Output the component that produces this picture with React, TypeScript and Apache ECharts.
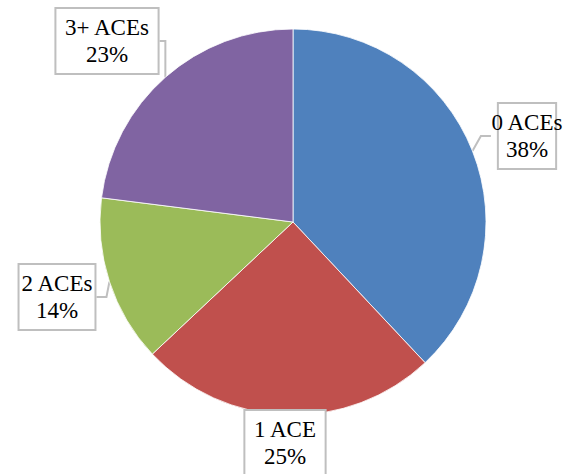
import React, { useEffect, useRef } from "react";
import * as echarts from "echarts";

const categories = ["0 ACEs", "1 ACE", "2 ACEs", "3+ ACEs"];
const values = [38, 25, 14, 23];
const colors = ["#4F81BD", "#C0504D", "#9BBB59", "#8064A2"];
const labelPositions = [
  [527, 136],
  [285, 443],
  [57, 297],
  [107, 41],
];

export default function App() {
  const ref = useRef<HTMLDivElement>(null);
  useEffect(() => {
    if (!ref.current) return;
    const chart = echarts.init(ref.current, null, { renderer: "svg" });
    chart.setOption({
      animation: false,
      backgroundColor: "#ffffff",
      series: [
        {
          type: "pie",
          center: [293, 222],
          radius: 193,
          startAngle: 90,
          clockwise: true,
          percentPrecision: 0,
          data: categories.map((c, i) => ({
            name: c,
            value: values[i],
            itemStyle: { color: colors[i] },
          })),
          itemStyle: { borderColor: "#ffffff", borderWidth: 0.8 },
          label: {
            show: true,
            position: "outside",
            alignTo: "none",
            overflow: "none",
            formatter: "{b}\n{d}%",
            fontFamily: "Liberation Serif",
            fontSize: 23,
            lineHeight: 27,
            color: "#000000",
            backgroundColor: "#ffffff",
            borderColor: "#BFBFBF",
            borderWidth: 2,
            padding: [6, 8, 4, 8],
            align: "center",
          },
          labelLine: {
            show: true,
            length: 10,
            length2: 10,
            lineStyle: { color: "#BFBFBF", width: 2 },
          },
          labelLayout: (params: any) => {
            const p = labelPositions[params.dataIndex];
            return {
              x: p[0],
              y: p[1],
              align: "center",
              verticalAlign: "middle",
            };
          },
          emphasis: { disabled: true },
        },
      ],
    });
    return () => chart.dispose();
  }, []);
  return (
    <div
      ref={ref}
      style={{ position: "fixed", left: 0, top: 0, width: 563, height: 474 }}
    />
  );
}
